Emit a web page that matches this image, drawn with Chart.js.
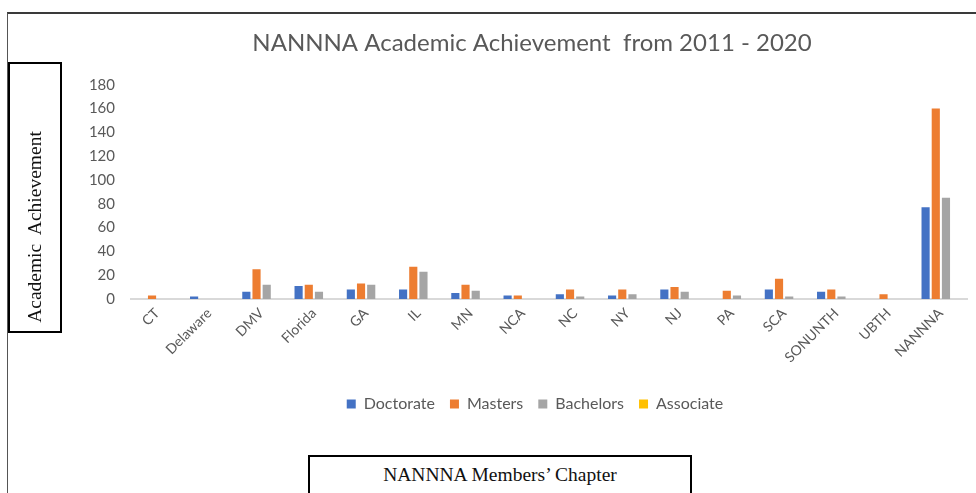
<!DOCTYPE html>
<html>
<head>
<meta charset="utf-8">
<script src="https://cdn.jsdelivr.net/npm/chart.js@4.4.1/dist/chart.umd.min.js"></script>
<style>
    html, body { margin: 0; padding: 0; background: #fff; }
    #wrap { position: relative; width: 976px; height: 493px; overflow: hidden; }
    #frame { position: absolute; left: 7px; top: 12px; width: 1000px; height: 600px;
             border-top: 2px solid #3a3a3a; border-left: 1px solid #555; }
    #chartBox { position: absolute; left: 0; top: 0; width: 976px; height: 493px; }
    .label-box { position: absolute; border: 2px solid #000; background: #fff;
                 font-family: 'Liberation Serif', 'DejaVu Serif', serif; color: #111; }
    #yTitle { left: 8px; top: 62px; width: 50px; height: 267px; }
    #yTitle span { position: absolute; display: block; width: 240px; height: 24px; line-height: 24px;
                   left: -95px; top: 151px; text-align: center; white-space: pre; font-size: 19.5px;
                   transform: rotate(-90deg); }
    #xTitle { left: 308px; top: 455px; width: 380px; height: 60px; }
    #xTitle span { position: absolute; left: 0; right: 0; top: 7px; text-align: center; font-size: 19.5px; }
</style>
</head>
<body>
<div id="wrap">
    <div id="frame"></div>
    <div id="chartBox"><canvas id="achChart" width="976" height="493"></canvas></div>
    <div class="label-box" id="yTitle"><span>Academic  Achievement</span></div>
    <div class="label-box" id="xTitle"><span>NANNNA Members’ Chapter</span></div>
</div>
<script>
var chapters = ['CT', 'Delaware', 'DMV', 'Florida', 'GA', 'IL', 'MN', 'NCA', 'NC', 'NY', 'NJ', 'PA', 'SCA', 'SONUNTH', 'UBTH', 'NANNNA'];
var doctorate = [0, 2, 6, 11, 8, 8, 5, 3, 4, 3, 8, 0, 8, 6, 0, 77];
var masters   = [3, 0, 25, 12, 13, 27, 12, 3, 8, 8, 10, 7, 17, 8, 4, 160];
var bachelors = [0, 0, 12, 6, 12, 23, 7, 0, 2, 4, 6, 3, 2, 2, 0, 85];
var associate = [0, 0, 0, 0, 0, 0, 0, 0, 0, 0, 0, 0, 0, 0, 0, 0];
var yMax = 180;
var yStep = 20;

var fontFamily = "Lato, 'Liberation Sans', sans-serif";

function makeSet(label, values, color) {
    return {
        label: label,
        data: values,
        backgroundColor: color,
        borderWidth: 0,
        barPercentage: 0.8,
        categoryPercentage: 0.78
    };
}

// title and legend sit a bit right of the canvas centre in the original
var nudgeBoxes = {
    id: 'nudgeBoxes',
    afterLayout: function(chart) {
        chart.titleBlock.left += 11;
        chart.titleBlock.right += 11;
        chart.legend.left += 14;
        chart.legend.right += 14;
    }
};

var ctx = document.getElementById('achChart').getContext('2d');
var achChart = new Chart(ctx, {
    type: 'bar',
    data: {
        labels: chapters,
        datasets: [
            makeSet('Doctorate', doctorate, '#4472C4'),
            makeSet('Masters', masters, '#ED7D31'),
            makeSet('Bachelors', bachelors, '#A5A5A5'),
            makeSet('Associate', associate, '#FFC000')
        ]
    },
    plugins: [nudgeBoxes],
    options: {
        responsive: false,
        animation: false,
        layout: { padding: { left: 75, right: 9, top: 0, bottom: 71 } },
        plugins: {
            title: {
                display: true,
                text: 'NANNNA Academic Achievement  from 2011 - 2020',
                color: '#595959',
                font: { family: fontFamily, size: 24, weight: 'normal' },
                padding: { top: 29, bottom: 27 }
            },
            legend: {
                position: 'bottom',
                labels: {
                    color: '#595959',
                    font: { family: fontFamily, size: 16 },
                    boxWidth: 9,
                    boxHeight: 9,
                    padding: 15
                }
            },
            tooltip: { enabled: false }
        },
        scales: {
            x: {
                grid: { display: false, drawTicks: false },
                border: { color: '#d9d9d9', width: 2 },
                ticks: {
                    color: '#595959',
                    font: { family: fontFamily, size: 14 },
                    minRotation: 45,
                    maxRotation: 45,
                    padding: 6
                },
                afterFit: function(scale) { scale.height = 82; }
            },
            y: {
                min: 0,
                max: yMax,
                grid: { display: false, drawTicks: false },
                border: { display: false },
                ticks: {
                    stepSize: yStep,
                    color: '#595959',
                    font: { family: fontFamily, size: 15 },
                    padding: 16
                },
                afterFit: function(scale) { scale.width = 56; }
            }
        }
    }
});
</script>
</body>
</html>
